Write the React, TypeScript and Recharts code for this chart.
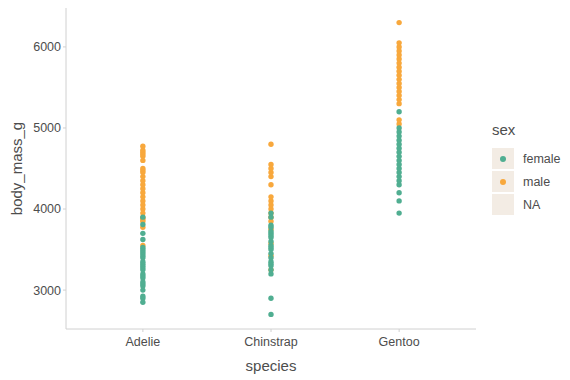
import { ScatterChart, Scatter, XAxis, YAxis, Label } from "recharts";

// species on the x axis (positions 1..3)
const species = ["Adelie", "Chinstrap", "Gentoo"];
const yTicks = [3000, 4000, 5000, 6000];
const sexLevels = ["female", "male", "NA"];

// body mass (g), per species and sex
const adelieFemale = [2850, 2900, 2925, 3000, 3050, 3075, 3100, 3150, 3175, 3200, 3250, 3275, 3300, 3325, 3350, 3400, 3425, 3450, 3475, 3500, 3525, 3625, 3700, 3810, 3900];
const adelieMale = [3550, 3775, 3850, 3875, 3900, 3950, 4000, 4050, 4100, 4150, 4200, 4250, 4300, 4350, 4400, 4450, 4475, 4500, 4600, 4650, 4675, 4700, 4725, 4775];
const chinstrapFemale = [2700, 2900, 3200, 3250, 3300, 3325, 3350, 3400, 3450, 3500, 3525, 3550, 3600, 3650, 3675, 3700, 3725, 3775, 3800, 3900, 3950];
const chinstrapMale = [3250, 3425, 3575, 3750, 3850, 3900, 3950, 4000, 4050, 4100, 4150, 4300, 4400, 4450, 4500, 4550, 4800];
const gentooFemale = [3950, 4100, 4200, 4300, 4350, 4400, 4450, 4500, 4550, 4600, 4650, 4700, 4750, 4800, 4850, 4900, 4950, 5000, 5200];
const gentooMale = [5050, 5100, 5300, 5350, 5400, 5450, 5500, 5550, 5600, 5650, 5700, 5750, 5800, 5850, 5900, 5950, 6000, 6050, 6300];

const COLORS: Record<string, string> = { female: "#50AE91", male: "#F8A83C" };
const TEXT = "#4D4D4D";
const AXIS = "#D0D0D0";
const FONT = "'Liberation Sans', Arial, sans-serif";

const toPoints = (lists: number[][]) =>
  lists.flatMap((vals, i) => vals.map((v) => ({ x: i + 1, y: v })));

const femaleData = toPoints([adelieFemale, chinstrapFemale, gentooFemale]);
const maleData = toPoints([adelieMale, chinstrapMale, gentooMale]);

const dot = (color: string) => (props: any) =>
  <circle cx={props.cx} cy={props.cy} r={2.7} fill={color} />;

const YTitle = ({ viewBox }: any) => {
  const cx = viewBox.x + 16;
  const cy = viewBox.y + viewBox.height / 2;
  return (
    <text x={cx} y={cy} transform={`rotate(-90 ${cx} ${cy})`} textAnchor="middle"
      dominantBaseline="central" fill={TEXT} fontSize={15} fontFamily={FONT}>
      body_mass_g
    </text>
  );
};

const XTitle = ({ viewBox }: any) => (
  <text x={viewBox.x + viewBox.width / 2} y={viewBox.y + 36} textAnchor="middle"
    dominantBaseline="central" fill={TEXT} fontSize={15} fontFamily={FONT}>
    species
  </text>
);

function SexLegend() {
  return (
    <div style={{ position: "absolute", left: 492, top: 120, fontFamily: FONT, color: TEXT }}>
      <div style={{ fontSize: 15, height: 27, lineHeight: "20px" }}>sex</div>
      {sexLevels.map((s) => (
        <div key={s} style={{ display: "flex", alignItems: "center", height: 23 }}>
          <div style={{ width: 22, height: 21, background: "#F3ECE4", position: "relative" }}>
            {COLORS[s] && (
              <div style={{ position: "absolute", left: 8, top: 7.5, width: 6, height: 6,
                borderRadius: 3, background: COLORS[s] }} />
            )}
          </div>
          <span style={{ fontSize: 12.5, marginLeft: 9 }}>{s}</span>
        </div>
      ))}
    </div>
  );
}

export default function App() {
  return (
    <div style={{ position: "absolute", left: 0, top: 0, width: 570, height: 380, background: "#fff" }}>
      <ScatterChart width={570} height={380} margin={{ top: 8, right: 94, bottom: 0, left: 0 }}>
        <XAxis type="number" dataKey="x" domain={[0.4, 3.6]} ticks={[1, 2, 3]}
          tickFormatter={(v: number) => species[v - 1]} allowDataOverflow
          height={51} stroke={AXIS} tickSize={3}
          tick={{ fill: TEXT, fontSize: 12.5, fontFamily: FONT, dy: 3 }}>
          <Label content={<XTitle />} />
        </XAxis>
        <YAxis type="number" dataKey="y" domain={[2520, 6480]} ticks={yTicks} allowDataOverflow
          width={66} stroke={AXIS} tickSize={3}
          tick={{ fill: TEXT, fontSize: 12.5, fontFamily: FONT }}>
          <Label content={<YTitle />} />
        </YAxis>
        <Scatter name="male" data={maleData} fill={COLORS.male} shape={dot(COLORS.male)} isAnimationActive={false} />
        <Scatter name="female" data={femaleData} fill={COLORS.female} shape={dot(COLORS.female)} isAnimationActive={false} />
      </ScatterChart>
      <SexLegend />
    </div>
  );
}
